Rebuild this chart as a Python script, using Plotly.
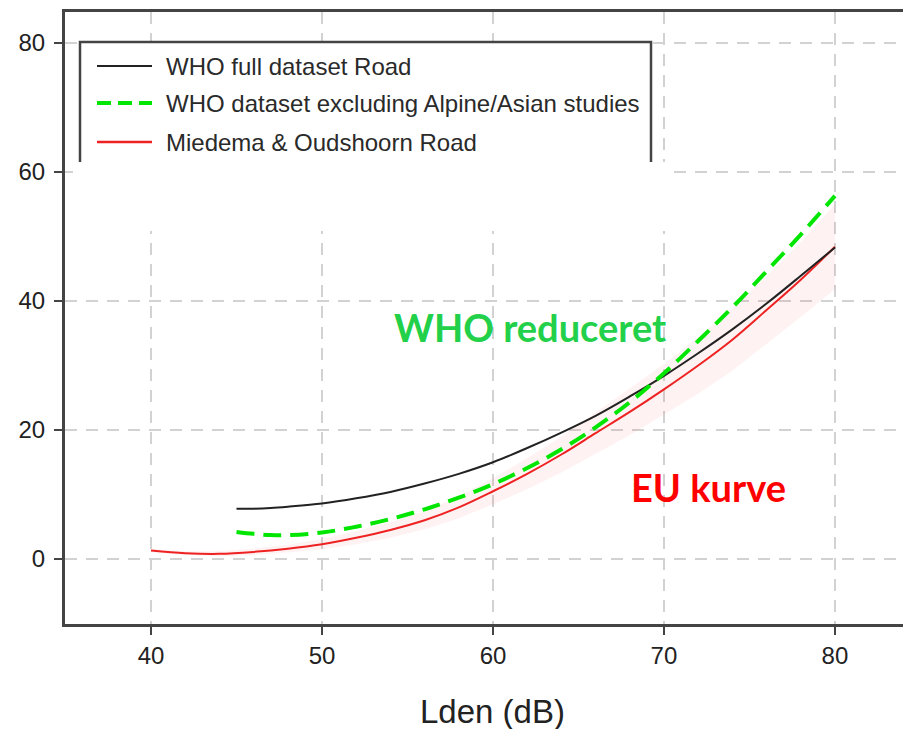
import plotly.graph_objects as go

# ---- data ----
x_who = [45, 46, 47, 48, 50, 52, 54, 56, 58, 60, 62, 64, 66, 68, 70, 72, 74, 76, 78, 80]
who_full = [7.8, 7.8, 7.9, 8.1, 8.6, 9.4, 10.4, 11.7, 13.2, 15.0, 17.2, 19.6, 22.2, 25.2, 28.4, 31.9, 35.6, 39.6, 43.9, 48.3]
who_excl = [4.2, 3.9, 3.7, 3.7, 4.1, 5.0, 6.2, 7.7, 9.5, 11.6, 14.1, 17.0, 20.4, 24.3, 28.8, 33.8, 39.0, 44.6, 50.3, 56.3]

x_eu = [40, 42, 44, 46, 48, 50, 52, 54, 56, 58, 60, 62, 64, 66, 68, 70, 72, 74, 76, 78, 80]
eu_road = [1.3, 0.9, 0.8, 1.1, 1.6, 2.3, 3.3, 4.5, 6.0, 8.0, 10.5, 13.2, 16.2, 19.5, 22.8, 26.3, 30.0, 34.0, 38.6, 43.3, 48.4]
eu_lo = [1.0, 0.6, 0.4, 0.6, 1.0, 1.5, 2.3, 3.3, 4.6, 6.3, 8.5, 10.8, 13.4, 16.3, 19.2, 22.4, 25.6, 29.2, 33.3, 37.5, 41.8]
eu_hi = [1.6, 1.2, 1.2, 1.6, 2.2, 3.1, 4.3, 5.7, 7.4, 9.7, 12.5, 15.6, 19.0, 22.7, 26.4, 30.2, 34.4, 38.8, 43.9, 49.1, 55.0]

x_ticks = [40, 50, 60, 70, 80]
y_ticks = [0, 20, 40, 60, 80]

legend_names = ["WHO full dataset Road",
                "WHO dataset excluding Alpine/Asian studies",
                "Miedema & Oudshoorn Road"]
x_title = "Lden (dB)"
label_who = "WHO reduceret"
label_eu = "EU kurve"

# ---- figure ----
W, H = 903, 729
L, R, T, B = 65, 0, 12, 105
PW, PH = W - L - R, H - T - B
SANS = "Liberation Sans"

def px(x):
    return (x - L) / PW

def py(y):
    return (H - B - y) / PH

fig = go.Figure()

fig.add_trace(go.Scatter(x=x_eu, y=eu_lo, mode="lines", line=dict(width=0),
                         hoverinfo="skip", showlegend=False))
fig.add_trace(go.Scatter(x=x_eu, y=eu_hi, mode="lines", line=dict(width=0),
                         fill="tonexty", fillcolor="rgba(255,70,70,0.07)",
                         hoverinfo="skip", showlegend=False))
fig.add_trace(go.Scatter(x=x_eu, y=eu_road, mode="lines", line=dict(color="#ee2222", width=2, shape="spline"),
                         name=legend_names[2], showlegend=False))
fig.add_trace(go.Scatter(x=x_who, y=who_full, mode="lines", line=dict(color="#222222", width=2, shape="spline"),
                         name=legend_names[0], showlegend=False))
fig.add_trace(go.Scatter(x=x_who, y=who_excl, mode="lines",
                         line=dict(color="#00e600", width=4, dash="18px,9px", shape="spline"),
                         name=legend_names[1], showlegend=False))

axis_common = dict(
    showline=True, linecolor="#444444", linewidth=3,
    ticks="outside", ticklen=8, tickwidth=2, tickcolor="#444444",
    showgrid=True, gridcolor="#d2d2d2", gridwidth=2, griddash="12px,9px",
    zeroline=False,
    tickfont=dict(family=SANS, size=24, color="#222222"),
)

fig.update_xaxes(range=[34.97, 83.98], tickvals=x_ticks, mirror=True, **axis_common)
fig.update_yaxes(range=[-10.08, 84.8], tickvals=y_ticks, ticklabelstandoff=4, **axis_common)

shapes = []
# legend box
shapes.append(dict(type="rect", xref="paper", yref="paper", layer="above",
                   x0=px(80), x1=px(651), y0=py(180), y1=py(42),
                   line=dict(color="#444444", width=2.5), fillcolor="white"))
# white patch (the composite cover)
shapes.append(dict(type="rect", xref="paper", yref="paper", layer="above",
                   x0=px(73), x1=px(668), y0=py(231), y1=py(162),
                   line=dict(width=0), fillcolor="white"))
# legend sample lines
rows = [66, 103, 142]
styles = [dict(color="#222222", width=2),
          dict(color="#00e600", width=4, dash="14px,7px"),
          dict(color="#ee2222", width=2.5)]
for r, st in zip(rows, styles):
    shapes.append(dict(type="line", xref="paper", yref="paper", layer="above",
                       x0=px(97), x1=px(152), y0=py(r), y1=py(r), line=st))

annotations = []
for r, name in zip(rows, legend_names):
    annotations.append(dict(text=name, xref="paper", yref="paper", x=px(164), y=py(r),
                            xanchor="left", yanchor="middle", showarrow=False,
                            font=dict(family=SANS, size=24, color="#2a2a2a")))
annotations.append(dict(text=x_title, xref="paper", yref="paper", x=px(492), y=py(711),
                        xanchor="center", yanchor="middle", showarrow=False,
                        font=dict(family=SANS, size=33, color="#222222")))
annotations.append(dict(text="<b>" + label_who + "</b>", xref="paper", yref="paper", x=px(530), y=py(327),
                        xanchor="center", yanchor="middle", showarrow=False,
                        font=dict(family="Lato", size=38, color="#22d04a")))
annotations.append(dict(text="<b>" + label_eu + "</b>", xref="paper", yref="paper", x=px(708), y=py(487),
                        xanchor="center", yanchor="middle", showarrow=False,
                        font=dict(family="Lato", size=38, color="#ff0000")))

fig.update_layout(
    width=W, height=H,
    margin=dict(l=L, r=R, t=T, b=B, pad=0),
    paper_bgcolor="white", plot_bgcolor="white",
    shapes=shapes, annotations=annotations,
    showlegend=False,
)

fig.write_html("out.html")
